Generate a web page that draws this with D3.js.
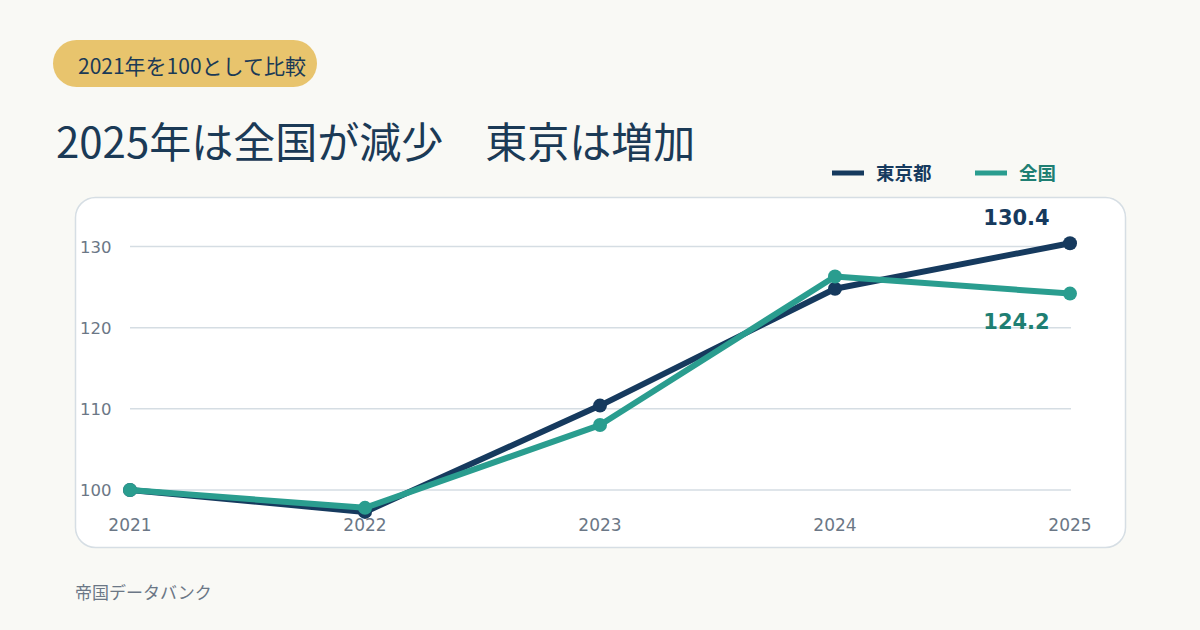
<!DOCTYPE html>
<html>
<head>
<meta charset="utf-8">
<script src="https://cdn.jsdelivr.net/npm/d3@7"></script>
<style>
  body { margin: 0; background: #f9f9f5; }
  svg { display: block; }
</style>
</head>
<body>
<svg id="chart" width="1200" height="630"></svg>
<script>
// data (2021 = 100)
var years = ["2021", "2022", "2023", "2024", "2025"];
var tokyo = [100, 97.3, 110.4, 124.8, 130.4];
var national = [100, 97.8, 108.0, 126.3, 124.2];
var yTicks = [100, 110, 120, 130];
var seriesNames = ["東京都", "全国"];

var svg = d3.select("#chart");
var jp = "'Noto Sans CJK JP', 'Noto Sans', sans-serif";
var num = "'DejaVu Sans', sans-serif";
var navy = "#163a5e", teal = "#2a9d8f", tealText = "#1f7f73";

svg.append("rect").attr("width", 1200).attr("height", 630).attr("fill", "#f9f9f5");

// badge
svg.append("rect")
    .attr("x", 53).attr("y", 40).attr("width", 264).attr("height", 47)
    .attr("rx", 23.5).attr("fill", "#e8c46d");
svg.append("text")
    .attr("x", 78).attr("y", 74)
    .style("font-family", jp).style("font-size", "21px")
    .attr("fill", "#1b3a56")
    .text("2021年を100として比較");

// title
svg.append("text")
    .attr("x", 56).attr("y", 158)
    .style("font-family", jp).style("font-size", "42px")
    .attr("fill", "#1b3a56")
    .text("2025年は全国が減少　東京は増加");

// legend
var legend = svg.append("g");
[[navy, navy, seriesNames[0], 832], [teal, tealText, seriesNames[1], 975]].forEach(function (d) {
    legend.append("line")
        .attr("x1", d[3]).attr("x2", d[3] + 32)
        .attr("y1", 173).attr("y2", 173)
        .attr("stroke", d[0]).attr("stroke-width", 5);
    legend.append("text")
        .attr("x", d[3] + 44).attr("y", 180)
        .style("font-family", jp).style("font-size", "18.5px").style("font-weight", "bold")
        .attr("fill", d[1])
        .text(d[2]);
});

// panel
svg.append("rect")
    .attr("x", 75.5).attr("y", 197.5).attr("width", 1050).attr("height", 350)
    .attr("rx", 20).attr("fill", "#ffffff")
    .attr("stroke", "#d6dee4").attr("stroke-width", 1.5);

var x = d3.scalePoint().domain(years).range([130, 1070]);
var y = d3.scaleLinear().domain([100, 130]).range([490, 246.5]);

// grid + y labels
var yAxis = svg.append("g");
yAxis.selectAll("line").data(yTicks).enter().append("line")
    .attr("x1", 130).attr("x2", 1071)
    .attr("y1", function (d) { return y(d); })
    .attr("y2", function (d) { return y(d); })
    .attr("stroke", "#d5dde3").attr("stroke-width", 1.5);
yAxis.selectAll("text").data(yTicks).enter().append("text")
    .attr("x", 80)
    .attr("y", function (d) { return y(d) + 6; })
    .style("font-family", num).style("font-size", "16.5px")
    .attr("fill", "#6b7786")
    .text(function (d) { return d; });

// x labels
svg.append("g").selectAll("text").data(years).enter().append("text")
    .attr("x", function (d) { return x(d); })
    .attr("y", 531)
    .attr("text-anchor", "middle")
    .style("font-family", num).style("font-size", "17px")
    .attr("fill", "#6b7786")
    .text(function (d) { return d; });

var line = d3.line()
    .x(function (d, i) { return x(years[i]); })
    .y(function (d) { return y(d); });

function drawSeries(values, color) {
    var g = svg.append("g");
    g.append("path").datum(values)
        .attr("d", line)
        .attr("fill", "none")
        .attr("stroke", color).attr("stroke-width", 6)
        .attr("stroke-linejoin", "round");
    g.selectAll("circle").data(values).enter().append("circle")
        .attr("cx", function (d, i) { return x(years[i]); })
        .attr("cy", function (d) { return y(d); })
        .attr("r", 7)
        .attr("fill", color);
}
drawSeries(tokyo, navy);
drawSeries(national, teal);

// end value labels
var last = years.length - 1;
svg.append("text")
    .attr("x", x(years[last]) - 53.5).attr("y", y(tokyo[last]) - 18)
    .attr("text-anchor", "middle")
    .style("font-family", num).style("font-size", "21px").style("font-weight", "bold")
    .attr("fill", navy)
    .text(tokyo[last].toFixed(1));
svg.append("text")
    .attr("x", x(years[last]) - 53.5).attr("y", y(national[last]) + 35)
    .attr("text-anchor", "middle")
    .style("font-family", num).style("font-size", "21px").style("font-weight", "bold")
    .attr("fill", tealText)
    .text(national[last].toFixed(1));

// source
svg.append("text")
    .attr("x", 75).attr("y", 599)
    .style("font-family", jp).style("font-size", "17px")
    .attr("fill", "#6b7786")
    .text("帝国データバンク");
</script>
</body>
</html>
